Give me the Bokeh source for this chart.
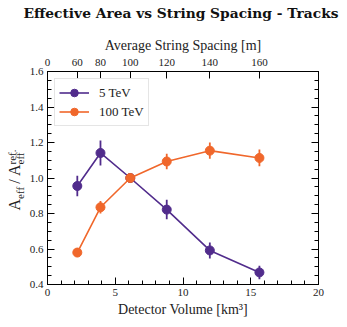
from bokeh.plotting import figure
from bokeh.layouts import row, column
from bokeh.models import (Range1d, LinearAxis, SingleIntervalTicker, FixedTicker,
                          ColumnDataSource, Div, PrintfTickFormatter,
                          CustomLabelingPolicy)
from bokeh.embed import file_html
from bokeh.resources import INLINE

# ---- data ----
volume = [2.20, 3.91, 6.11, 8.80, 11.98, 15.64]       # km^3
spacing = [60, 80, 100, 120, 140, 160]                # m
aeff_5tev = [0.955, 1.141, 1.000, 0.822, 0.592, 0.468]
err_5tev = [0.058, 0.070, 0.0, 0.055, 0.045, 0.038]
aeff_100tev = [0.580, 0.835, 1.000, 1.093, 1.154, 1.113]
err_100tev = [0.025, 0.035, 0.0, 0.043, 0.046, 0.047]
top_ticks = [0] + volume
top_labels = ["0"] + [str(s) for s in spacing]

PURPLE = "#512c8c"
ORANGE = "#f0672b"
FONT = "Liberation Serif"
TXT = "#222222"

TITLE_H = 26
LAB_W = 26

p = figure(width=339 - LAB_W, height=319 - TITLE_H, output_backend="svg",
           toolbar_location=None, title=None,
           x_range=Range1d(0, 20), y_range=Range1d(0.4, 1.6),
           min_border_left=44 - LAB_W, min_border_right=21,
           min_border_top=71 - TITLE_H, min_border_bottom=31)

p.xgrid.visible = False
p.ygrid.visible = False
p.outline_line_color = "black"
p.outline_line_width = 1
p.outline_line_alpha = 1


def style_axis(ax):
    ax.axis_line_color = "black"
    ax.major_tick_in = 7
    ax.major_tick_out = 0
    ax.minor_tick_in = 4
    ax.minor_tick_out = 0
    ax.major_tick_line_color = "black"
    ax.minor_tick_line_color = "black"
    ax.major_label_text_font = FONT
    ax.major_label_text_font_size = "11px"
    ax.major_label_text_color = TXT
    ax.major_label_standoff = 4
    ax.axis_label_text_font = FONT
    ax.axis_label_text_font_size = "14px"
    ax.axis_label_text_font_style = "normal"
    ax.axis_label_text_color = TXT
    ax.axis_label_standoff = 3


xax = p.xaxis[0]
xax.ticker = SingleIntervalTicker(interval=5, num_minor_ticks=5)
xax.axis_label = "Detector Volume [km³]"
style_axis(xax)

yax = p.yaxis[0]
yax.ticker = SingleIntervalTicker(interval=0.2, num_minor_ticks=4)
yax.formatter = PrintfTickFormatter(format="%.1f")
style_axis(yax)

rax = LinearAxis(ticker=SingleIntervalTicker(interval=0.2, num_minor_ticks=4))
style_axis(rax)
rax.major_label_policy = CustomLabelingPolicy(
    code="for (const i of Array.from(indices)) { indices.unset(i) }; return indices")
p.add_layout(rax, "right")

tax = LinearAxis(ticker=FixedTicker(ticks=top_ticks, minor_ticks=[]),
                 axis_label="Average String Spacing [m]")
tax.major_label_overrides = {t: l for t, l in zip(top_ticks, top_labels)}
style_axis(tax)
tax.major_label_standoff = 6
p.add_layout(tax, "above")

# ---- series ----
for vals, errs, col, lab in [(aeff_5tev, err_5tev, PURPLE, "5 TeV"),
                             (aeff_100tev, err_100tev, ORANGE, "100 TeV")]:
    src = ColumnDataSource(dict(x=volume, y=vals,
                                lo=[v - e for v, e in zip(vals, errs)],
                                hi=[v + e for v, e in zip(vals, errs)]))
    p.segment(x0="x", y0="lo", x1="x", y1="hi", source=src, line_color=col,
              line_width=1.8)
    p.line("x", "y", source=src, line_color=col, line_width=1.6, legend_label=lab)
    p.scatter("x", "y", source=src, marker="circle", size=9, fill_color=col,
              line_color=col, legend_label=lab)

leg = p.legend[0]
leg.location = "top_left"
leg.margin = 7
leg.padding = 4
leg.spacing = 0
leg.label_height = 19
leg.glyph_height = 19
leg.glyph_width = 30
leg.label_standoff = 10
leg.label_text_font = FONT
leg.label_text_font_size = "13px"
leg.label_text_color = TXT
leg.border_line_color = "#cccccc"
leg.border_line_width = 1
leg.background_fill_alpha = 0.8

# ---- title (HTML text) ----
title_html = (
    '<div style="position:absolute; left:181px; top:13px; '
    'transform:translate(-50%,-50%); white-space:nowrap; '
    "font-family:'DejaVu Serif'; font-weight:bold; font-size:13.8px; "
    'color:#111111; line-height:18px;">'
    'Effective Area vs String Spacing - Tracks</div>'
)
title_div = Div(text=title_html, width=339, height=TITLE_H, margin=0,
                styles={"position": "relative"})

# ---- y axis label: A_eff / A_eff^ref. (HTML with sub/superscripts) ----
ylabel_html = (
    '<div style="position:absolute; left:17px; top:%dpx; '
    'transform:translate(-50%%,-50%%) rotate(-90deg); white-space:nowrap; '
    "font-family:'Liberation Serif'; font-size:16px; color:#222222; line-height:16px;\">"
    'A<span style="font-size:11px; vertical-align:-4px;">eff</span>'
    '&thinsp;/&thinsp;A'
    '<span style="display:inline-block; font-size:11px; line-height:8px; '
    'vertical-align:-4px; text-align:left;">ref.<br>eff</span>'
    '</div>'
) % (180 - TITLE_H)
ylab = Div(text=ylabel_html, width=LAB_W, height=319 - TITLE_H, margin=0,
           styles={"position": "relative"})

layout = column(title_div, row(ylab, p, spacing=0), spacing=0)
open("out.html", "w").write(file_html(layout, INLINE))
